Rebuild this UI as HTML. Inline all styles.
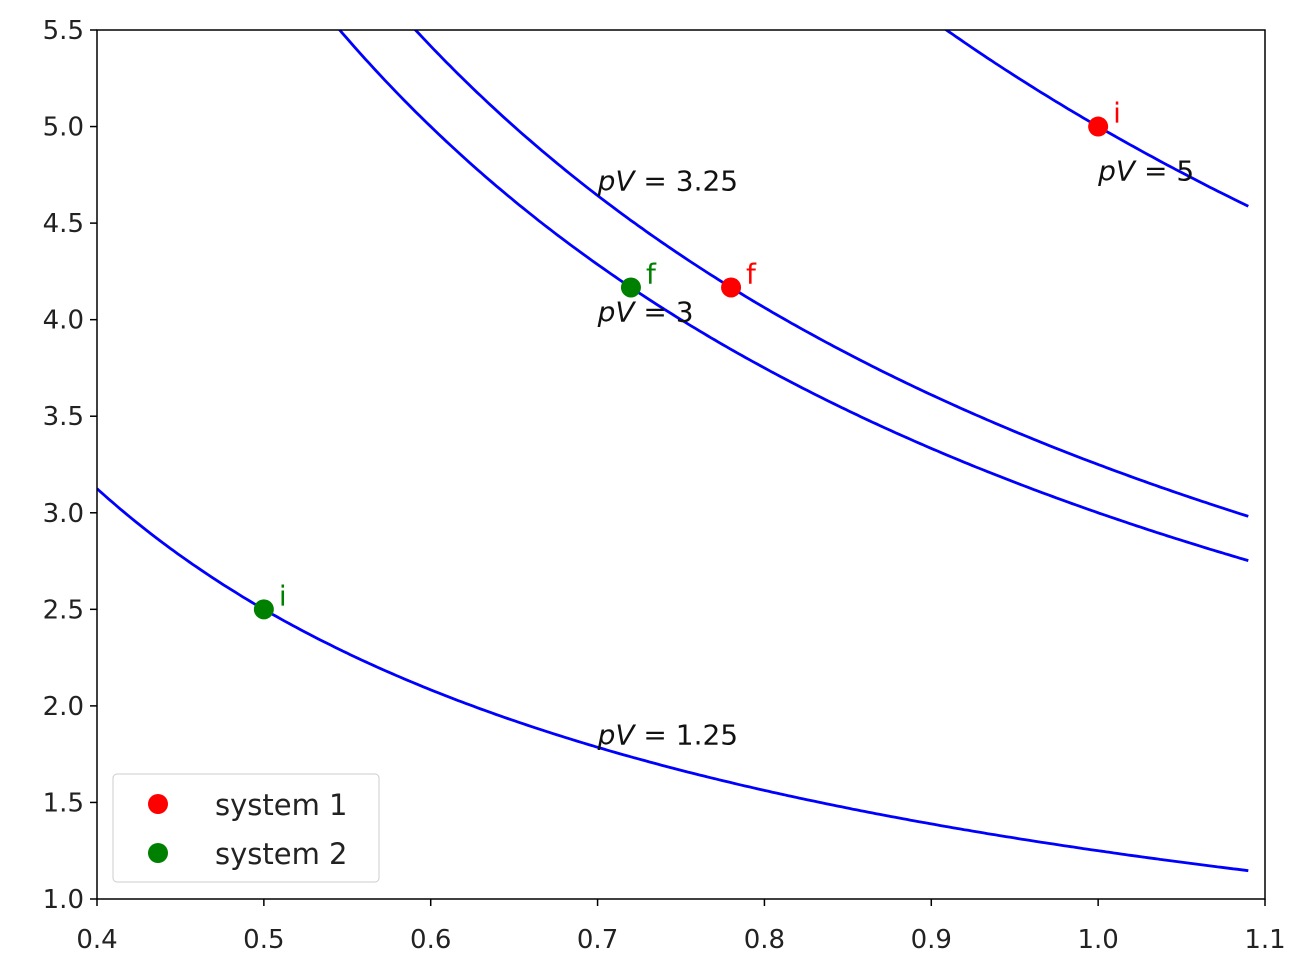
<!DOCTYPE html>
<html><head><meta charset="utf-8"><style>
body{margin:0;background:#fff;}
svg{display:block;font-family:"DejaVu Sans","Liberation Sans",sans-serif;}
</style></head><body>
<svg id="chart" width="1291" height="959">
<defs><clipPath id="clip"><rect x="97" y="30" width="1168" height="869"/></clipPath></defs>
<g id="curves" clip-path="url(#clip)"></g>
<g id="labels"></g>
<g id="points"></g>
<rect x="97" y="30" width="1168" height="869" fill="none" stroke="#000" stroke-width="1.5"/>
<g id="xticks"></g>
<g id="yticks"></g>
<g>
<rect x="113" y="774" width="266" height="108" rx="4" fill="#fff" fill-opacity="0.8" stroke="#ccc"/>
<circle cx="158" cy="804" r="10" fill="red"/>
<text x="215" y="815" font-size="29" fill="#222">system 1</text>
<circle cx="158" cy="853" r="10" fill="green"/>
<text x="215" y="864" font-size="29" fill="#222">system 2</text>
</g>
</svg>
<script>
const curveConsts=[5,3.25,3,1.25];
const curveLabels=["5","3.25","3","1.25"];
const labelX=[1.0,0.7,0.7,0.7];
const labelY=[4.72,4.67,3.99,1.80];
const sys1V=[1.0,0.78];
const sys1P=[5,4.1667];
const sys2V=[0.5,0.72];
const sys2P=[2.5,4.1667];
const pointTags=["i","f"];
const xTicks=[0.4,0.5,0.6,0.7,0.8,0.9,1.0,1.1];
const yTicks=[1.0,1.5,2.0,2.5,3.0,3.5,4.0,4.5,5.0,5.5];
const vMin=0.4,vMax=1.09;
const X=v=>97+(v-0.4)/0.7*1168;
const Y=p=>899-(p-1.0)/4.5*869;
const NS="http://www.w3.org/2000/svg";
function mk(t,a,parent){const e=document.createElementNS(NS,t);for(const k in a)e.setAttribute(k,a[k]);document.getElementById(parent).appendChild(e);return e;}
curveConsts.forEach((c,i)=>{
 let d="";for(let k=0;k<=300;k++){const v=vMin+(vMax-vMin)*k/300;d+=(k?"L":"M")+X(v).toFixed(1)+","+Y(c/v).toFixed(1);}
 const e=mk("path",{d:d,fill:"none",stroke:"blue","stroke-width":2.8},"curves");
 
 
 const t=mk("text",{x:X(labelX[i]),y:Y(labelY[i]),"font-size":28,fill:"#111"},"labels");
 t.innerHTML='<tspan font-style="italic">pV</tspan> = '+curveLabels[i];
 
 
});
function pts(V,P,col,name){V.forEach((v,i)=>{
 const c=mk("circle",{cx:X(v),cy:Y(P[i]),r:10,fill:col},"points");
 
 
 const t=mk("text",{x:X(v)+15,y:Y(P[i])-4,"font-size":28,fill:col},"points");
 t.textContent=pointTags[i];
 
 
});}
pts(sys1V,sys1P,"red","system-1");
pts(sys2V,sys2P,"green","system-2");
xTicks.forEach(v=>{
 const l=mk("line",{x1:X(v),x2:X(v),y1:899,y2:906,stroke:"#000","stroke-width":1.5},"xticks");
 
 
 const t=mk("text",{x:X(v),y:948,"font-size":26,fill:"#222","text-anchor":"middle"},"xticks");
 t.textContent=v.toFixed(1);
 
 
});
yTicks.forEach(p=>{
 const l=mk("line",{x1:90,x2:97,y1:Y(p),y2:Y(p),stroke:"#000","stroke-width":1.5},"yticks");
 
 
 const t=mk("text",{x:84,y:Y(p)+9,"font-size":26,fill:"#222","text-anchor":"end"},"yticks");
 t.textContent=p.toFixed(1);
 
 
});
</script>
</body></html>
